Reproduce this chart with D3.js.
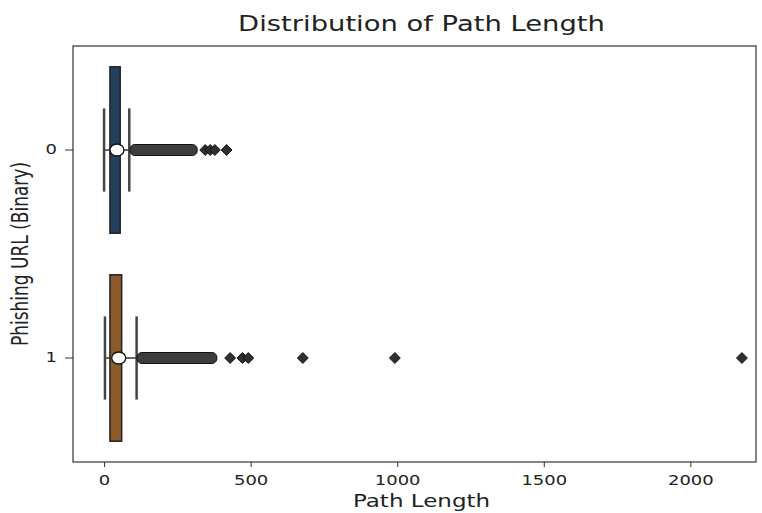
<!DOCTYPE html>
<html>
<head>
<meta charset="utf-8">
<script src="https://cdn.jsdelivr.net/npm/d3@7"></script>
<style>
  body { margin: 0; background: #fff; }
  text { font-family: "DejaVu Sans", sans-serif; fill: #222; }
</style>
</head>
<body>
<script>
// categories and the box summary
var categories = ["0", "1"];
var boxLow = [20, 20];          // Q1
var boxHigh = [55, 60];         // Q3
var means = [44, 50];           // white marker
var whiskerLow = [0, 3];
var whiskerHigh = [86, 111];
// dense run of outliers (drawn as a thick band) and the isolated ones
var denseLow = [88, 112];
var denseHigh = [318, 385];
var outliers0 = [345, 362, 378, 418];
var outliers1 = [430, 472, 492, 678, 992, 2176];
var outliers = [outliers0, outliers1];
var boxColors = ["#24405f", "#8c5a2b"];
var xTicks = [0, 500, 1000, 1500, 2000];

var W = 762, H = 513;
var sx = 1.33; // the picture is stretched sideways
var margin = {top: 46, right: 6, bottom: 51, left: 73};
var width = W - margin.left - margin.right;
var height = H - margin.top - margin.bottom;

var svg = d3.select("body").append("svg")
    .attr("width", W)
    .attr("height", H);

var g = svg.append("g")
    .attr("transform", "translate(" + margin.left + "," + margin.top + ")");

var x = d3.scaleLinear().domain([-106, 2224]).range([0, width]);
var y = d3.scaleBand().domain(categories).range([0, height]).paddingInner(0).paddingOuter(0);
var bw = y.bandwidth();

categories.forEach(function(c, i) {
    var cy = y(c) + bw / 2;
    var boxH = bw * 0.8;
    var capH = bw * 0.4;

    // whisker line
    g.append("line")
        .attr("x1", x(whiskerLow[i])).attr("x2", x(whiskerHigh[i]))
        .attr("y1", cy).attr("y2", cy)
        .attr("stroke", "#333").attr("stroke-width", 1.5);

    // caps
    [whiskerLow[i], whiskerHigh[i]].forEach(function(v) {
        g.append("line")
            .attr("x1", x(v)).attr("x2", x(v))
            .attr("y1", cy - capH / 2).attr("y2", cy + capH / 2)
            .attr("stroke", "#444").attr("stroke-width", 2.5);
    });

    // box
    g.append("rect")
        .attr("x", x(boxLow[i]))
        .attr("width", x(boxHigh[i]) - x(boxLow[i]))
        .attr("y", cy - boxH / 2)
        .attr("height", boxH)
        .attr("fill", boxColors[i])
        .attr("stroke", "#222").attr("stroke-width", 1.5);

    // dense outliers band
    g.append("rect")
        .attr("x", x(denseLow[i]))
        .attr("width", x(denseHigh[i]) - x(denseLow[i]))
        .attr("y", cy - 5.5)
        .attr("height", 11)
        .attr("rx", 5)
        .attr("fill", "#3d3d3d")
        .attr("stroke", "#111").attr("stroke-width", 1);

    // isolated outliers as diamonds
    g.selectAll(null)
        .data(outliers[i])
        .enter().append("path")
        .attr("d", d3.symbol().type(d3.symbolDiamond2).size(75))
        .attr("transform", function(d) { return "translate(" + x(d) + "," + cy + ")"; })
        .attr("fill", "#2f2f2f")
        .attr("stroke", "#111").attr("stroke-width", 1);

    // mean marker
    g.append("ellipse")
        .attr("cx", x(means[i])).attr("cy", cy)
        .attr("rx", 7).attr("ry", 6)
        .attr("fill", "#fff")
        .attr("stroke", "#111").attr("stroke-width", 1.3);
});

// frame
g.append("rect")
    .attr("width", width).attr("height", height)
    .attr("fill", "none").attr("stroke", "#333").attr("stroke-width", 1.2);

var xaxis = g.append("g")
    .attr("transform", "translate(0," + height + ")")
    .call(d3.axisBottom(x).tickValues(xTicks).tickFormat(d3.format("d")).tickSize(5).tickPadding(8));
var yaxis = g.append("g")
    .call(d3.axisLeft(y).tickSize(8).tickPadding(8));

[xaxis, yaxis].forEach(function(a) {
    a.select(".domain").remove();
    a.selectAll("line").attr("stroke", "#333");
});

// stretch each tick label sideways around its own anchor
xaxis.selectAll(".tick text")
    .style("font-size", "13.5px")
    .attr("transform", "scale(" + sx + ",1)");
yaxis.selectAll(".tick text")
    .style("font-size", "13.5px")
    .attr("transform", function() {
        var xx = +d3.select(this).attr("x");
        return "translate(" + (xx * (1 - sx)) + ",0) scale(" + sx + ",1)";
    });

svg.append("text")
    .attr("transform", "translate(" + (margin.left + width / 2 + 7) + ",31) scale(" + sx + ",1)")
    .attr("text-anchor", "middle")
    .style("font-size", "20.6px")
    .text("Distribution of Path Length");

svg.append("text")
    .attr("transform", "translate(" + (margin.left + width / 2 + 7) + ",507) scale(" + sx + ",1)")
    .attr("text-anchor", "middle")
    .style("font-size", "17.3px")
    .text("Path Length");

svg.append("text")
    .attr("transform", "translate(28," + (margin.top + 208) + ") scale(" + sx + ",1) rotate(-90)")
    .attr("text-anchor", "middle")
    .style("font-size", "17px")
    .text("Phishing URL (Binary)");
</script>
</body>
</html>
